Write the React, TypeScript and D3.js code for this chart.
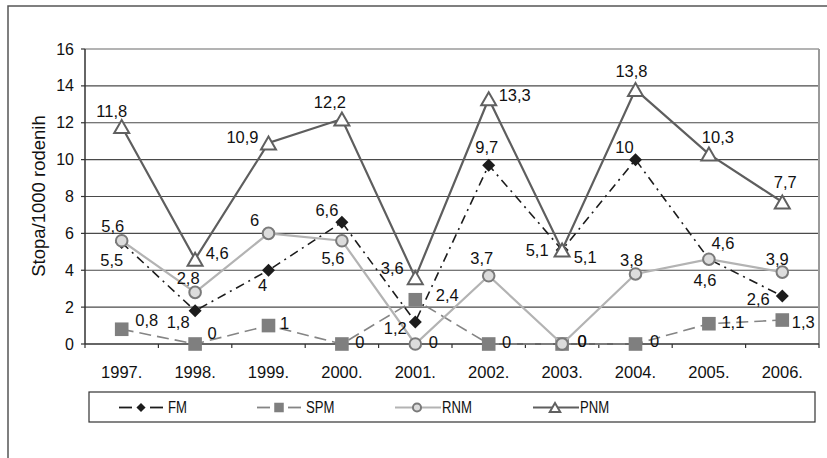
import React from "react";
import * as d3 from "d3";

const years = ["1997.", "1998.", "1999.", "2000.", "2001.", "2002.", "2003.", "2004.", "2005.", "2006."];
const fm = [5.5, 1.8, 4, 6.6, 1.2, 9.7, 5.1, 10, 4.6, 2.6];
const spm = [0.8, 0, 1, 0, 2.4, 0, 0, 0, 1.1, 1.3];
const rnm = [5.6, 2.8, 6, 5.6, 0, 3.7, 0, 3.8, 4.6, 3.9];
const pnm = [11.8, 4.6, 10.9, 12.2, 3.6, 13.3, 5.1, 13.8, 10.3, 7.7];
const yTicks = [0, 2, 4, 6, 8, 10, 12, 14, 16];
const seriesNames = ["FM", "SPM", "RNM", "PNM"];

// label placement offsets (dx, dy) relative to each point
const fmOff: [number, number][] = [[-10, 17], [-17, 11], [-6, 15], [-15, -12], [-20, 6], [-2, -18], [-25, 0], [-11, -13], [-4, 21], [-24, 3]];
const spmOff: [number, number][] = [[25, -9], [17, -11], [16, -3], [18, -2], [32, -5], [18, -2], [20, -3], [19, -3], [24, -2], [21, 2]];
const rnmOff: [number, number][] = [[-9, -15], [-7, -14], [-14, -13], [-9, 17], [18, -2], [-7, -18], [20, -3], [-4, -14], [14, -16], [-5, -13]];
const pnmOff: [number, number][] = [[-10, -15], [22, -6], [-26, -6], [-12, -17], [-23, -10], [26, -4], [23, 7], [-4, -19], [9, -17], [3, -20]];

const FONT = "'Liberation Sans', Arial, sans-serif";

const fmt = (v: number) => String(v).replace(".", ",");

function Marker({ kind, x, y, s = 1 }: { kind: string; x: number; y: number; s?: number }) {
  if (kind === "FM") {
    const r = 6.5 * s;
    return <path d={`M${x},${y - r}L${x + r},${y}L${x},${y + r}L${x - r},${y}Z`} fill="#1c1c1c" />;
  }
  if (kind === "SPM") {
    const h = 6.8 * s;
    return <rect x={x - h} y={y - h} width={2 * h} height={2 * h} fill="#7f7f7f" />;
  }
  if (kind === "RNM") {
    return <circle cx={x} cy={y} r={5.8 * s} fill="#dcdcdc" stroke="#7a7a7a" strokeWidth={2} />;
  }
  const w = 7.5 * s;
  const h = 6.5 * s;
  return <path d={`M${x},${y - h}L${x + w},${y + h}L${x - w},${y + h}Z`} fill="#ffffff" stroke="#606060" strokeWidth={2} />;
}

export default function App() {
  const left = 85, right = 819, top = 49, bottom = 344;
  const x = d3.scaleBand<string>().domain(years).range([left, right]);
  const y = d3.scaleLinear().domain([0, 16]).range([bottom, top]);
  const cx = (i: number) => (x(years[i]) as number) + x.bandwidth() / 2;

  const line = d3.line<number>().x((_, i) => cx(i)).y((v) => y(v));

  const series = [
    { name: "FM", data: fm, off: fmOff, stroke: "#1c1c1c", width: 1.6, dash: "9,5,2,5" },
    { name: "SPM", data: spm, off: spmOff, stroke: "#858585", width: 1.6, dash: "12,6" },
    { name: "RNM", data: rnm, off: rnmOff, stroke: "#b3b3b3", width: 2.2, dash: "" },
    { name: "PNM", data: pnm, off: pnmOff, stroke: "#5e5e5e", width: 2.2, dash: "" },
  ];

  const boundaries = d3.range(years.length + 1).map((k) => left + k * x.bandwidth());

  return (
    <svg width={827} height={458} style={{ position: "absolute", left: 0, top: 0 }} fontFamily={FONT}>
      <rect x={0} y={0} width={827} height={458} fill="#ffffff" />
      <rect x={8} y={6} width={900} height={600} fill="none" stroke="#555" strokeWidth={1.5} />

      {/* gridlines */}
      {yTicks.slice(1, -1).map((t) => (
        <line key={t} x1={left} x2={right} y1={y(t)} y2={y(t)} stroke="#4a4a4a" strokeWidth={1.2} />
      ))}
      <line x1={left} x2={right} y1={y(16)} y2={y(16)} stroke="#9a9a9a" strokeWidth={1.5} />
      <line x1={right} x2={right} y1={top} y2={bottom} stroke="#9a9a9a" strokeWidth={2} />

      {/* axes */}
      <line x1={left} x2={left} y1={top} y2={bottom} stroke="#333" strokeWidth={1.5} />
      <line x1={left} x2={right} y1={bottom} y2={bottom} stroke="#333" strokeWidth={1.5} />
      {yTicks.map((t) => (
        <g key={t}>
          <line x1={left - 4} x2={left} y1={y(t)} y2={y(t)} stroke="#333" strokeWidth={1.2} />
          <text x={74} y={y(t)} textAnchor="end" dominantBaseline="central" fontSize={16} fill="#111">
            {t}
          </text>
        </g>
      ))}
      {boundaries.map((b, k) => (
        <line key={k} x1={b} x2={b} y1={bottom} y2={bottom + 4} stroke="#333" strokeWidth={1.2} />
      ))}
      {years.map((yr, i) => (
        <text key={yr} x={cx(i)} y={378} textAnchor="middle" fontSize={16.5} fill="#111">
          {yr}
        </text>
      ))}
      <text
        transform={`translate(38,196) rotate(-90)`}
        textAnchor="middle"
        dominantBaseline="central"
        fontSize={18.5}
        fill="#111"
      >
        Stopa/1000 rodenih
      </text>

      {/* series */}
      {series.map((s) => (
        <g key={s.name}>
          <path d={line(s.data) as string} fill="none" stroke={s.stroke} strokeWidth={s.width} strokeDasharray={s.dash || undefined} />
          {s.data.map((v, i) => (
            <Marker key={i} kind={s.name} x={cx(i)} y={y(v)} />
          ))}
        </g>
      ))}
      {series.map((s) => (
        <g key={s.name + "l"}>
          {s.data.map((v, i) => (
            <text
              key={i}
              x={cx(i) + s.off[i][0]}
              y={y(v) + s.off[i][1]}
              textAnchor="middle"
              dominantBaseline="central"
              fontSize={16.5}
              fill="#111"
            >
              {fmt(v)}
            </text>
          ))}
        </g>
      ))}

      {/* legend */}
      <rect x={89} y={392} width={726} height={30} fill="#fff" stroke="#333" strokeWidth={1.2} />
      {series.map((s, k) => {
        const x0 = 119 + k * 138;
        const ly = 407.5;
        const tx = x0 + (s.dash ? 49 : 47);
        return (
          <g key={s.name + "lg"}>
            {s.dash ? (
              <>
                <line x1={x0} x2={x0 + 13} y1={ly} y2={ly} stroke={s.stroke} strokeWidth={1.8} />
                <line x1={x0 + 31} x2={x0 + 44} y1={ly} y2={ly} stroke={s.stroke} strokeWidth={1.8} />
              </>
            ) : (
              <line x1={x0} x2={x0 + 46} y1={ly} y2={ly} stroke={s.stroke} strokeWidth={s.width} />
            )}
            <Marker kind={s.name} x={x0 + 22} y={ly} s={0.7} />
            <text
              x={0}
              y={0}
              dominantBaseline="central"
              fontSize={16}
              fill="#111"
              transform={`translate(${tx},${ly}) scale(0.82,1)`}
            >
              {seriesNames[k]}
            </text>
          </g>
        );
      })}
    </svg>
  );
}
